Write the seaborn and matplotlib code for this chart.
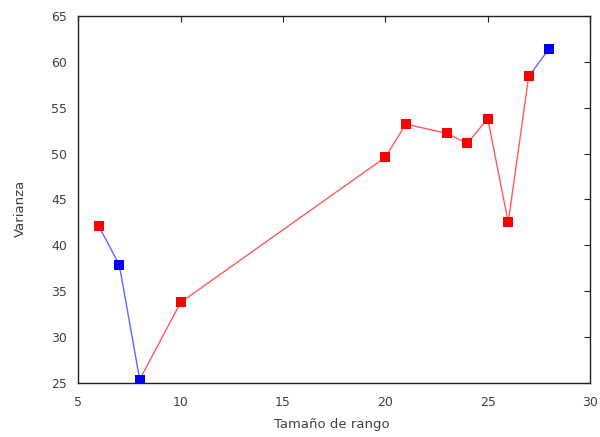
import matplotlib
matplotlib.use("Agg")
import matplotlib.pyplot as plt
import seaborn as sns
import pandas as pd

sizes = [6, 7, 8, 10, 20, 21, 23, 24, 25, 26, 27, 28]
varianza = [42.1, 37.9, 25.4, 33.8, 49.6, 53.2, 52.2, 51.1, 53.8, 42.5, 58.4, 61.4]
groups = ["r", "b", "b", "r", "r", "r", "r", "r", "r", "r", "r", "b"]

sns.set_style("white")
plt.rcParams['font.family'] = ['DejaVu Sans']

pal_line = {"r": "#ff5a5a", "b": "#6464ff"}
pal_pt = {"r": "#ff0000", "b": "#0000ff"}

# segments: each colored by destination point
rows = []
for i in range(1, len(sizes)):
    for j in (i - 1, i):
        rows.append({"seg": i, "x": sizes[j], "y": varianza[j], "g": groups[i]})
seg_df = pd.DataFrame(rows)
pt_df = pd.DataFrame({"x": sizes, "y": varianza, "g": groups})

fig = plt.figure(figsize=(6, 4.37), dpi=100)
ax = fig.add_axes([0.1305, 0.123, 0.853, 0.841])

sns.lineplot(data=seg_df, x="x", y="y", hue="g", units="seg", estimator=None,
             palette=pal_line, linewidth=1.0, legend=False, ax=ax, sort=False)
sns.scatterplot(data=pt_df, x="x", y="y", hue="g", palette=pal_pt, marker="s",
                s=52, linewidth=0, legend=False, ax=ax, zorder=3)

ax.set_xlim(5, 30)
ax.set_ylim(25, 65)
ax.set_xticks(range(5, 31, 5))
ax.set_yticks(range(25, 66, 5))
ax.tick_params(direction="in", length=4, width=0.8, top=True, right=True,
               labelsize=9, colors="#202020")
ax.tick_params(axis="x", pad=9.5, labelcolor="#404040")
ax.tick_params(axis="y", pad=8, labelcolor="#404040")
for s in ax.spines.values():
    s.set_color("#202020")
    s.set_linewidth(1.0)
ax.set_xlabel("Tamaño de rango", fontsize=9.5, color="#404040")
ax.set_ylabel("Varianza", fontsize=9.5, color="#404040")
ax.xaxis.set_label_coords(0.495, -0.095)
ax.yaxis.set_label_coords(-0.101, 0.477)

fig.savefig("out.png", dpi=100)
